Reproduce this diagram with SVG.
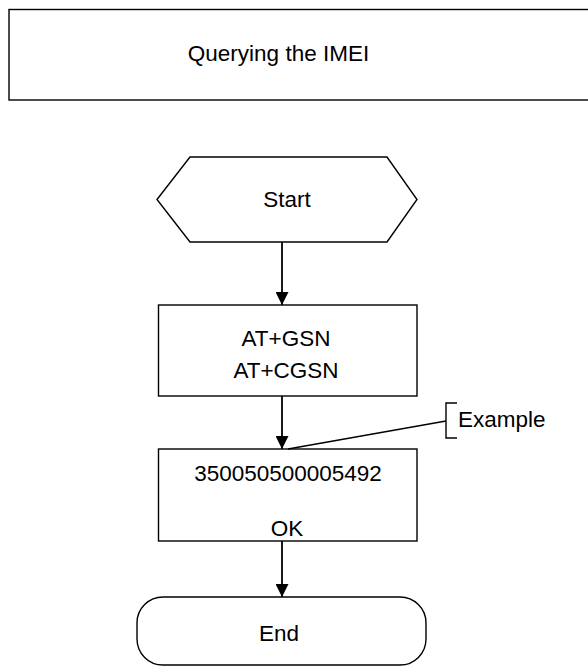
<svg xmlns="http://www.w3.org/2000/svg" width="588" height="666" viewBox="0 0 588 666">
<defs>
<style>
.s{fill:#fff;stroke:#000;stroke-width:1.4}
.t{font-family:"Liberation Sans",Arial,sans-serif;font-size:22.5px;fill:#000;text-anchor:middle}
.c{fill:none;stroke:#000;stroke-width:1.4}
.a{stroke-width:1.8}
</style>
<marker id="ah" viewBox="0 0 12 13" refX="13" refY="6.5" markerWidth="12" markerHeight="13" markerUnits="userSpaceOnUse" orient="auto">
<path d="M0,0 L13,6.5 L0,13 Z" fill="#000"/>
</marker>
</defs>
<rect width="588" height="666" fill="#fff"/>
<g id="title">
<rect class="s" x="9" y="9.5" width="600" height="90.5"/>
<text class="t" x="278.5" y="61">Querying the IMEI</text>
</g>
<g id="start">
<polygon class="s" points="157,199.5 190,157 387,157 417,199.5 387,242 190,242"/>
<text class="t" x="287" y="207">Start</text>
</g>
<g id="cmd">
<rect class="s" x="158.5" y="305" width="258.5" height="91"/>
<text class="t" x="286" y="346">AT+GSN</text>
<text class="t" x="286" y="378">AT+CGSN</text>
</g>
<g id="resp">
<rect class="s" x="158.5" y="449" width="258.5" height="92"/>
<text class="t" x="288" y="481">350050500005492</text>
<text class="t" x="287" y="536">OK</text>
</g>
<g id="end">
<rect class="s" x="137" y="597" width="289" height="68" rx="26" ry="26"/>
<text class="t" x="279" y="641">End</text>
</g>
<g id="example">
<path class="c" d="M457,403 H446 V438 H457"/>
<text class="t" x="458" y="427" style="text-anchor:start">Example</text>
</g>
<g id="connectors">
<line class="c a" x1="282" y1="242" x2="282" y2="305" marker-end="url(#ah)"/>
<line class="c a" x1="282" y1="396" x2="282" y2="449" marker-end="url(#ah)"/>
<line class="c a" x1="282" y1="541" x2="282" y2="597" marker-end="url(#ah)"/>
<line class="c" x1="446" y1="421" x2="288" y2="449"/>
</g>
</svg>
